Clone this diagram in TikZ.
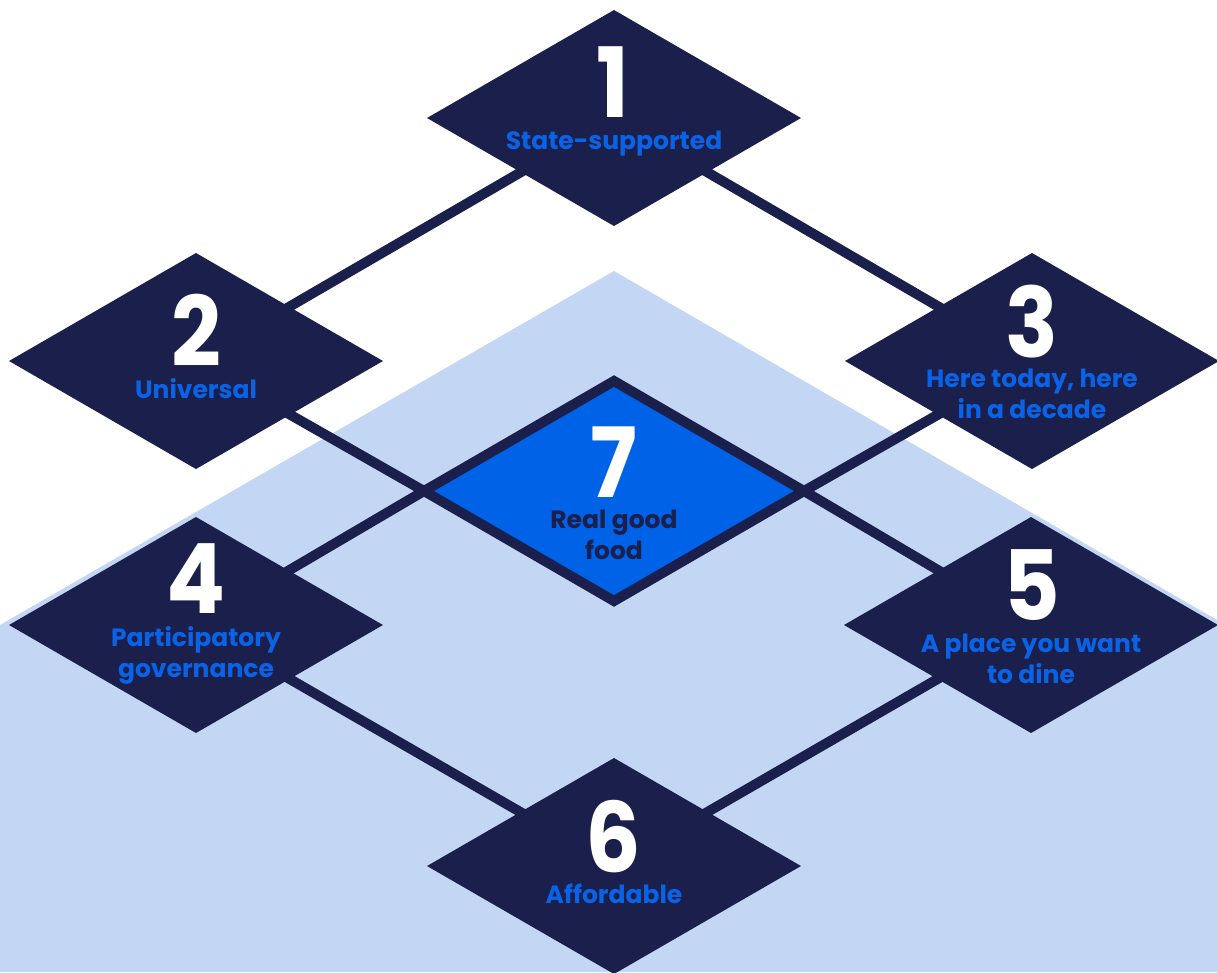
\documentclass[tikz,border=0pt]{standalone}
\usepackage{fontspec}
\setmainfont{Poppins}
\usetikzlibrary{shapes.geometric}
\definecolor{navy}{HTML}{1B1F4B}
\definecolor{lblue}{HTML}{C3D7F5}
\definecolor{tblue}{HTML}{0A63E6}
\definecolor{cblue}{HTML}{0062E6}
\pgfdeclarelayer{bgfill}
\pgfdeclarelayer{links}
\pgfsetlayers{bgfill,links,main}
\begin{document}
\begin{tikzpicture}[x=1pt,y=-1pt,
  box/.style={diamond,fill=navy,inner sep=0pt,outer sep=0pt,minimum width=374pt,minimum height=216pt},
  core/.style={diamond,fill=cblue,draw=navy,line width=10pt,inner sep=0pt,outer sep=0pt,minimum width=380pt,minimum height=220pt},
  num/.style={text=white,font=\fontsize{97}{97}\selectfont\bfseries,anchor=base,inner sep=0pt,xscale=0.9},
  lbl/.style={text=tblue,font=\fontsize{25}{31}\selectfont\bfseries,anchor=base,align=center,inner sep=0pt},
  link/.style={draw=navy,line width=10pt}]
\useasboundingbox (0,0) rectangle (1217,972);
\begin{pgfonlayer}{bgfill}
\fill[lblue] (0,625) -- (614,271) -- (1217,620) -- (1217,972) -- (0,972) -- cycle;
\end{pgfonlayer}

\node[box] (d1) at (614,118) {};
\node[box] (d2) at (196,361) {};
\node[box] (d3) at (1032,361) {};
\node[box] (d4) at (196,625) {};
\node[box] (d5) at (1031,625) {};
\node[box] (d6) at (614,866) {};
\node[core] (d7) at (614,491) {};

\begin{pgfonlayer}{links}
\draw[link] (d1.center) -- (d2.center);
\draw[link] (d1.center) -- (d3.center);
\draw[link] (d2.center) -- (d7.west);
\draw[link] (d4.center) -- (d7.west);
\draw[link] (d3.center) -- (d7.east);
\draw[link] (d5.center) -- (d7.east);
\draw[link] (d4.center) -- (d6.center);
\draw[link] (d5.center) -- (d6.center);
\end{pgfonlayer}

\node[num] (n1) at (613,117) {1};
\node[num] (n2) at (196,366) {2};
\node[num] (n3) at (1032,357) {3};
\node[num] (n4) at (196,613) {4};
\node[num] (n5) at (1032,620) {5};
\node[num] (n6) at (613,872) {6};
\node[num] (n7) at (614,497) {7};

\node[lbl] (l1) at (614,149) {State-supported};
\node[lbl] (l2) at (196,398) {Universal};
\node[lbl] (l3) at (1032,418) {Here today, here\\in a decade};
\node[lbl] (l4) at (196,677) {Participatory\\governance};
\node[lbl] (l5) at (1031,683) {A place you want\\to dine};
\node[lbl] (l6) at (614,903) {Affordable};
\node[lbl,text=navy] (l7) at (614,559) {Real good\\food};
\end{tikzpicture}
\end{document}
